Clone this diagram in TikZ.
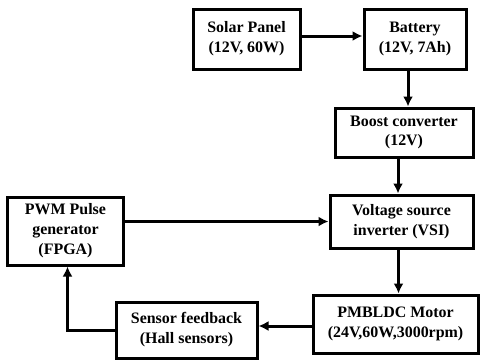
\documentclass[tikz,border=0pt]{standalone}
\usepackage{fontspec}
\setmainfont{Liberation Serif}
\usetikzlibrary{arrows.meta,positioning}

\begin{document}
\begin{tikzpicture}[x=1bp,y=-1bp,
  blk/.style={draw,line width=3bp,align=center,font=\bfseries\fontsize{16}{20}\selectfont,inner sep=2bp},
  arr/.style={-{Latex[length=10bp,width=10bp]},line width=3bp}]
\useasboundingbox (0,0) rectangle (482,363);
\node[blk,minimum width=107bp,minimum height=60bp] (solar) at (246.5,39){Solar Panel\\(12V, 60W)};
\node[blk,minimum width=102bp,minimum height=60bp] (battery) at (415,39){Battery\\(12V, 7Ah)};
\node[blk,minimum width=138bp,minimum height=49bp] (boost) at (404,132.5){Boost converter\\(12V)};
\node[blk,minimum width=143bp,minimum height=53bp] (vsi) at (401.5,221.5){Voltage source\\inverter (VSI)};
\node[blk,minimum width=115bp,minimum height=68bp] (pwm) at (65.5,231){PWM Pulse\\generator\\(FPGA)};
\node[blk,minimum width=165bp,minimum height=58bp] (motor) at (395.5,324){PMBLDC Motor\\(24V,60W,3000rpm)};
\node[blk,minimum width=141bp,minimum height=56bp] (sensor) at (186.5,330){Sensor feedback\\(Hall sensors)};
\draw[arr] ([yshift=3bp]solar.east)--([yshift=3bp]battery.west);
\draw[arr] ([xshift=-7bp]battery.south)--([xshift=-7bp]battery.south |- boost.north);
\draw[arr] ([xshift=-6bp]boost.south)--([xshift=-6bp]boost.south |- vsi.north);
\draw[arr] (pwm.east |- vsi.west)--(vsi.west);
\draw[arr] ([xshift=-3bp]vsi.south)--([xshift=-3bp]vsi.south |- motor.north);
\draw[arr] ([yshift=-2bp]motor.west)--([yshift=-2bp]motor.west -| sensor.east);
\draw[arr] (sensor.west)-|([xshift=2bp]pwm.south);
\end{tikzpicture}
\end{document}
